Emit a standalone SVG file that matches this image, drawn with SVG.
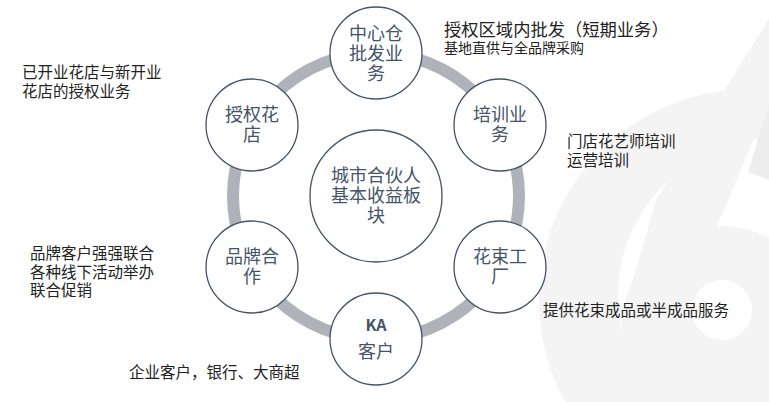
<svg xmlns="http://www.w3.org/2000/svg" width="769" height="402" viewBox="0 0 769 402">
<style>
.bg{fill:#f4f4f4}
.ring{fill:none;stroke:#afb2b8;stroke-width:12}
.node circle{fill:#fff;stroke:#44546a;stroke-width:1.3}
.nt{font-family:"Noto Sans CJK SC","Noto Sans",sans-serif;font-size:18px;fill:#44546a;text-anchor:middle}
.ka{font-family:"Noto Sans CJK SC","Noto Sans",sans-serif;font-size:16px;font-weight:bold;fill:#44546a;text-anchor:middle}
.et{font-family:"Noto Sans CJK SC",sans-serif;font-size:15.5px;fill:#222}
</style>
<rect width="769" height="402" fill="#fff"/>
<g id="watermark">
<circle class="bg" cx="750" cy="300" r="211"/>
<circle cx="776" cy="296" r="158" fill="#fff"/>
<polygon class="bg" points="772,14 772,96 713,236 630,290 656,200"/>
<polygon points="769,104 769,180 748,172" fill="#ededed"/>
<circle class="bg" cx="722" cy="326" r="100"/>
<circle cx="722" cy="310" r="30" fill="#fff"/>
</g>
<g id="connectors">
<circle class="ring" cx="376" cy="196" r="143"/>
</g>
<g id="center" class="node">
<circle cx="376" cy="196" r="66"/>
<text class="nt" x="376" y="182">城市合伙人<tspan x="376" dy="20">基本收益板</tspan><tspan x="376" dy="20">块</tspan></text>
</g>
<g id="n-wholesale" class="node">
<circle cx="376" cy="53" r="46"/>
<text class="nt" x="376" y="40">中心仓<tspan x="376" dy="20">批发业</tspan><tspan x="376" dy="20">务</tspan></text>
</g>
<g id="n-training" class="node">
<circle cx="500" cy="125" r="46"/>
<text class="nt" x="500" y="121">培训业<tspan x="500" dy="20">务</tspan></text>
</g>
<g id="n-factory" class="node">
<circle cx="500" cy="267" r="46"/>
<text class="nt" x="500" y="263">花束工<tspan x="500" dy="20">厂</tspan></text>
</g>
<g id="n-ka" class="node">
<circle cx="376" cy="339" r="46"/>
<text class="ka" x="376" y="331">KA</text>
<text class="nt" x="376" y="358">客户</text>
</g>
<g id="n-brand" class="node">
<circle cx="252" cy="267" r="46"/>
<text class="nt" x="252" y="263">品牌合<tspan x="252" dy="20">作</tspan></text>
</g>
<g id="n-store" class="node">
<circle cx="252" cy="125" r="46"/>
<text class="nt" x="252" y="121">授权花<tspan x="252" dy="20">店</tspan></text>
</g>
<g id="labels">
<text class="et" x="444" y="36" style="font-size:17.3px">授权区域内批发（短期业务）</text>
<text class="et" x="444" y="53" style="font-size:14px">基地直供与全品牌采购</text>
<text class="et" x="567" y="147">门店花艺师培训<tspan x="567" dy="19">运营培训</tspan></text>
<text class="et" x="543" y="316">提供花束成品或半成品服务</text>
<text class="et" x="129" y="378">企业客户，银行、大商超</text>
<text class="et" x="22" y="78">已开业花店与新开业<tspan x="22" dy="19">花店的授权业务</tspan></text>
<text class="et" x="30" y="259">品牌客户强强联合<tspan x="30" dy="19">各种线下活动举办</tspan><tspan x="30" dy="18">联合促销</tspan></text>
</g>
</svg>
